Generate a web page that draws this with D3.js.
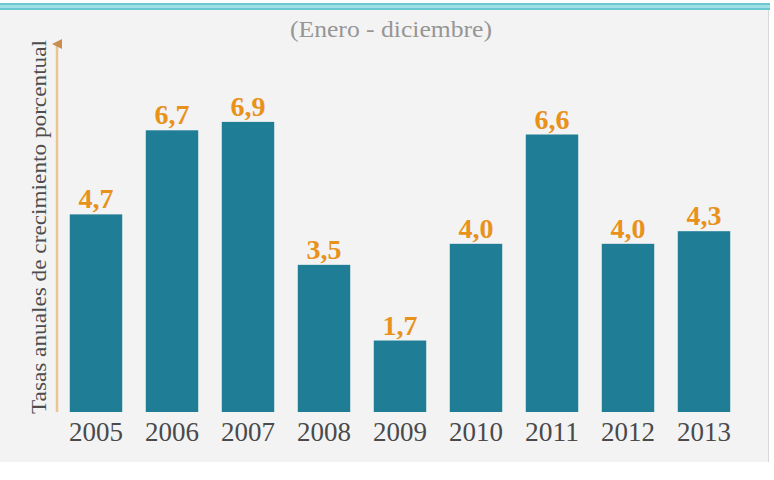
<html>
<head>
    <meta charset="UTF-8" />
    <script src="https://d3js.org/d3.v7.min.js"></script>
    <style>
        body { margin: 0; background: white; }
    </style>
</head>
<body>
    <svg id="svg" width="774" height="480"></svg>
    <script>
        // data
        const years = ["2005", "2006", "2007", "2008", "2009", "2010", "2011", "2012", "2013"];
        const rates = [4.7, 6.7, 6.9, 3.5, 1.7, 4.0, 6.6, 4.0, 4.3];
        const subtitle = "(Enero - diciembre)";
        const yLabel = "Tasas anuales de crecimiento porcentual";

        const serif = "'Liberation Serif', 'Times New Roman', serif";
        const svg = d3.select("svg#svg");

        // panel background + top band
        svg.append("rect").attr("x", 0).attr("y", 8).attr("width", 768).attr("height", 454)
            .attr("fill", "#f3f3f3");
        svg.append("line").attr("x1", 768.5).attr("x2", 768.5).attr("y1", 8).attr("y2", 462)
            .attr("stroke", "#d8d8d8");
        svg.append("rect").attr("x", 0).attr("y", 3).attr("width", 770).attr("height", 7)
            .attr("fill", "#9fe0e6");
        svg.append("line").attr("x1", 0).attr("x2", 770).attr("y1", 4).attr("y2", 4)
            .attr("stroke", "#5cbfca").attr("stroke-width", 1.5);
        svg.append("line").attr("x1", 0).attr("x2", 770).attr("y1", 9).attr("y2", 9)
            .attr("stroke", "#5cbfca").attr("stroke-width", 1.5);

        // scales
        const xScale = d3.scaleBand().domain(years).range([58, 742])
            .paddingInner(0.31).paddingOuter(0.155);
        const yScale = d3.scaleLinear().domain([0, 8.8]).range([412, 42]);

        // subtitle
        svg.append("text")
            .attr("x", 391).attr("y", 37)
            .attr("text-anchor", "middle")
            .attr("font-size", 24)
            .style("font-family", serif)
            .attr("fill", "#969696")
            .attr("textLength", 202)
            .attr("lengthAdjust", "spacingAndGlyphs")
            .text(subtitle);

        // y axis line with arrow
        svg.append("defs").append("marker")
            .attr("id", "arrow").attr("viewBox", "0 0 10 10")
            .attr("refX", 5).attr("refY", 5)
            .attr("markerWidth", 4).attr("markerHeight", 4)
            .attr("orient", "auto")
            .append("path").attr("d", "M0,10 L5,0 L10,10 Z").attr("fill", "#c98d50");

        svg.append("line")
            .attr("x1", 57).attr("x2", 57)
            .attr("y1", yScale(0)).attr("y2", yScale(8.8) + 2)
            .attr("stroke", "#ecc48e").attr("stroke-width", 2.5)
            .attr("marker-end", "url(#arrow)");

        // y label
        svg.append("text")
            .attr("transform", "translate(46," + (yScale(0) + yScale(8.8)) / 2 + ") rotate(-90)")
            .attr("text-anchor", "middle")
            .attr("font-size", 21)
            .style("font-family", serif)
            .attr("fill", "#4d4d4d")
            .attr("textLength", 374)
            .attr("lengthAdjust", "spacingAndGlyphs")
            .text(yLabel);

        // bars
        const data = years.map((y, i) => ({ year: y, value: rates[i] }));

        svg.append("g").selectAll("rect.bar").data(data)
            .join("rect")
            .attr("class", "bar")
            .attr("x", d => xScale(d.year))
            .attr("width", xScale.bandwidth())
            .attr("y", d => yScale(d.value))
            .attr("height", d => yScale(0) - yScale(d.value))
            .attr("fill", "#1f7e96");

        // value labels
        const fmt = d => d3.format(".1f")(d).replace(".", ",");
        svg.append("g").selectAll("text.val").data(data)
            .join("text")
            .attr("class", "val")
            .attr("x", d => xScale(d.year) + xScale.bandwidth() / 2)
            .attr("y", d => yScale(d.value) - 6)
            .attr("text-anchor", "middle")
            .attr("font-size", 28)
            .attr("font-weight", "bold")
            .style("font-family", serif)
            .attr("fill", "#e8921c")
            .text(d => fmt(d.value));

        // x axis labels
        const xAxis = d3.axisBottom(xScale).tickSize(0).tickPadding(0);
        const xg = svg.append("g")
            .attr("transform", "translate(0," + yScale(0) + ")")
            .call(xAxis);
        xg.select(".domain").remove();
        xg.selectAll("text")
            .attr("y", 29)
            .attr("dy", 0)
            .attr("font-size", 28)
            .style("font-family", serif)
            .attr("fill", "#4a4a4a")
            .attr("textLength", 54)
            .attr("lengthAdjust", "spacingAndGlyphs");
    </script>
</body>
</html>
